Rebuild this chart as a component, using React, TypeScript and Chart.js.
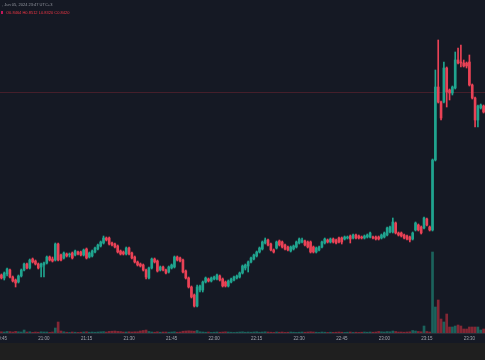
import React, { useEffect, useRef } from 'react';
import { Chart, registerables } from 'chart.js';

Chart.register(...registerables);

// one-minute candles starting at 20:45
const START_MINUTE = 20 * 60 + 45;
const CANDLE_COUNT = 171;
const pad2 = (n: number) => String(n).padStart(2, '0');
const categories: string[] = Array.from({ length: CANDLE_COUNT }, (_, i) => {
  const m = START_MINUTE + i;
  return `${pad2(Math.floor(m / 60) % 24)}:${pad2(m % 60)}`;
});

const tickLabels = ['20:45', '21:00', '21:15', '21:30', '21:45', '22:00', '22:15', '22:30', '22:45', '23:00', '23:15', '23:30'];

const open = [
  0.516, 0.510, 0.518, 0.526, 0.512, 0.506, 0.502, 0.514, 0.526, 0.538,
  0.530, 0.548, 0.544, 0.538, 0.532, 0.536, 0.540, 0.552, 0.548, 0.546,
  0.578, 0.556, 0.550, 0.558, 0.556, 0.560, 0.556, 0.562, 0.562, 0.556,
  0.568, 0.552, 0.554, 0.562, 0.568, 0.574, 0.580, 0.590, 0.590, 0.580,
  0.578, 0.574, 0.564, 0.562, 0.558, 0.570, 0.560, 0.552, 0.542, 0.538,
  0.536, 0.526, 0.510, 0.530, 0.548, 0.544, 0.526, 0.532, 0.526, 0.522,
  0.530, 0.532, 0.552, 0.550, 0.546, 0.524, 0.510, 0.492, 0.476, 0.454,
  0.486, 0.486, 0.502, 0.508, 0.504, 0.508, 0.508, 0.514, 0.508, 0.502,
  0.494, 0.502, 0.506, 0.510, 0.512, 0.520, 0.530, 0.534, 0.542, 0.548,
  0.554, 0.562, 0.568, 0.580, 0.586, 0.578, 0.566, 0.570, 0.584, 0.582,
  0.576, 0.572, 0.564, 0.568, 0.572, 0.580, 0.582, 0.584, 0.582, 0.582,
  0.572, 0.562, 0.566, 0.572, 0.580, 0.586, 0.582, 0.588, 0.586, 0.590,
  0.590, 0.588, 0.590, 0.594, 0.590, 0.596, 0.594, 0.592, 0.590, 0.592,
  0.592, 0.592, 0.592, 0.592, 0.590, 0.592, 0.596, 0.602, 0.602, 0.620,
  0.600, 0.600, 0.596, 0.594, 0.592, 0.588, 0.606, 0.616, 0.612, 0.610,
  0.628, 0.612, 0.606, 0.746, 0.892, 0.862, 0.862, 0.930, 0.886, 0.880,
  0.890, 0.946, 0.942, 0.940, 0.940, 0.942, 0.896, 0.870, 0.826, 0.850,
  0.854,
];

const high = [
  0.518, 0.522, 0.530, 0.528, 0.514, 0.508, 0.516, 0.528, 0.540, 0.540,
  0.548, 0.550, 0.546, 0.540, 0.540, 0.542, 0.554, 0.554, 0.552, 0.580,
  0.580, 0.558, 0.562, 0.560, 0.560, 0.562, 0.566, 0.564, 0.564, 0.568,
  0.570, 0.562, 0.566, 0.572, 0.578, 0.584, 0.594, 0.592, 0.592, 0.582,
  0.580, 0.576, 0.566, 0.564, 0.572, 0.572, 0.562, 0.554, 0.544, 0.540,
  0.538, 0.528, 0.532, 0.550, 0.550, 0.546, 0.534, 0.534, 0.528, 0.534,
  0.538, 0.554, 0.554, 0.552, 0.548, 0.526, 0.512, 0.494, 0.478, 0.496,
  0.496, 0.504, 0.512, 0.510, 0.512, 0.514, 0.518, 0.516, 0.510, 0.504,
  0.506, 0.510, 0.514, 0.516, 0.522, 0.536, 0.538, 0.544, 0.552, 0.558,
  0.564, 0.572, 0.584, 0.590, 0.588, 0.580, 0.568, 0.584, 0.586, 0.584,
  0.578, 0.574, 0.574, 0.576, 0.584, 0.590, 0.590, 0.586, 0.584, 0.584,
  0.574, 0.572, 0.574, 0.584, 0.590, 0.588, 0.590, 0.590, 0.588, 0.592,
  0.592, 0.594, 0.594, 0.596, 0.598, 0.598, 0.596, 0.594, 0.596, 0.598,
  0.602, 0.594, 0.594, 0.594, 0.598, 0.602, 0.612, 0.614, 0.630, 0.622,
  0.602, 0.602, 0.598, 0.596, 0.594, 0.602, 0.622, 0.618, 0.614, 0.632,
  0.630, 0.614, 0.748, 0.926, 0.986, 0.864, 0.942, 0.932, 0.888, 0.894,
  0.962, 0.970, 0.976, 0.946, 0.942, 0.956, 0.898, 0.872, 0.856, 0.858,
  0.856,
];

const low = [
  0.508, 0.506, 0.514, 0.510, 0.502, 0.492, 0.500, 0.512, 0.524, 0.528,
  0.528, 0.540, 0.536, 0.528, 0.512, 0.512, 0.538, 0.544, 0.542, 0.544,
  0.544, 0.544, 0.548, 0.552, 0.552, 0.548, 0.554, 0.556, 0.554, 0.554,
  0.548, 0.550, 0.552, 0.560, 0.566, 0.572, 0.578, 0.584, 0.576, 0.574,
  0.570, 0.560, 0.556, 0.556, 0.556, 0.556, 0.548, 0.540, 0.534, 0.532,
  0.524, 0.508, 0.508, 0.528, 0.540, 0.522, 0.524, 0.524, 0.518, 0.520,
  0.528, 0.530, 0.544, 0.542, 0.520, 0.508, 0.490, 0.470, 0.452, 0.452,
  0.482, 0.482, 0.500, 0.502, 0.502, 0.506, 0.506, 0.504, 0.492, 0.492,
  0.492, 0.500, 0.504, 0.508, 0.510, 0.518, 0.526, 0.522, 0.540, 0.546,
  0.552, 0.560, 0.566, 0.578, 0.574, 0.564, 0.560, 0.568, 0.574, 0.570,
  0.566, 0.564, 0.562, 0.566, 0.570, 0.578, 0.580, 0.574, 0.570, 0.560,
  0.560, 0.560, 0.564, 0.570, 0.578, 0.580, 0.580, 0.580, 0.578, 0.580,
  0.578, 0.586, 0.588, 0.580, 0.588, 0.588, 0.588, 0.588, 0.588, 0.590,
  0.590, 0.588, 0.586, 0.586, 0.588, 0.590, 0.594, 0.600, 0.600, 0.598,
  0.594, 0.592, 0.588, 0.586, 0.582, 0.586, 0.604, 0.604, 0.598, 0.608,
  0.614, 0.604, 0.604, 0.744, 0.860, 0.826, 0.860, 0.852, 0.866, 0.876,
  0.888, 0.938, 0.932, 0.932, 0.930, 0.894, 0.868, 0.812, 0.812, 0.848,
  0.840,
];

const close = [
  0.510, 0.520, 0.528, 0.512, 0.504, 0.500, 0.514, 0.526, 0.538, 0.530,
  0.546, 0.542, 0.538, 0.530, 0.538, 0.540, 0.552, 0.546, 0.544, 0.578,
  0.546, 0.546, 0.560, 0.554, 0.558, 0.550, 0.564, 0.558, 0.556, 0.566,
  0.550, 0.560, 0.564, 0.570, 0.576, 0.582, 0.590, 0.586, 0.578, 0.576,
  0.572, 0.562, 0.558, 0.558, 0.570, 0.558, 0.550, 0.542, 0.536, 0.534,
  0.526, 0.512, 0.530, 0.548, 0.542, 0.524, 0.532, 0.526, 0.520, 0.532,
  0.536, 0.552, 0.546, 0.544, 0.522, 0.510, 0.492, 0.472, 0.454, 0.492,
  0.494, 0.502, 0.510, 0.504, 0.510, 0.512, 0.516, 0.506, 0.494, 0.494,
  0.504, 0.508, 0.512, 0.514, 0.520, 0.534, 0.536, 0.542, 0.550, 0.556,
  0.562, 0.570, 0.582, 0.586, 0.576, 0.566, 0.562, 0.582, 0.576, 0.572,
  0.568, 0.566, 0.572, 0.574, 0.582, 0.588, 0.586, 0.576, 0.572, 0.562,
  0.562, 0.570, 0.572, 0.582, 0.588, 0.582, 0.588, 0.582, 0.580, 0.582,
  0.582, 0.592, 0.592, 0.588, 0.596, 0.590, 0.590, 0.590, 0.594, 0.596,
  0.600, 0.590, 0.588, 0.588, 0.596, 0.600, 0.610, 0.612, 0.622, 0.600,
  0.596, 0.594, 0.590, 0.588, 0.586, 0.600, 0.620, 0.606, 0.600, 0.630,
  0.616, 0.606, 0.746, 0.892, 0.862, 0.830, 0.930, 0.882, 0.880, 0.892,
  0.946, 0.940, 0.940, 0.934, 0.934, 0.896, 0.870, 0.826, 0.854, 0.856,
  0.842,
];

const volume = [
  12, 10, 15, 14, 10, 16, 12, 10, 30, 10,
  12, 6, 10, 8, 12, 10, 10, 6, 10, 50,
  110, 20, 12, 8, 6, 10, 8, 6, 8, 10,
  12, 8, 10, 8, 10, 12, 14, 10, 16, 18,
  20, 16, 14, 10, 10, 12, 10, 12, 12, 20,
  25, 30, 15, 10, 8, 12, 8, 10, 10, 8,
  10, 12, 8, 10, 18, 20, 22, 20, 18, 25,
  12, 10, 8, 10, 6, 8, 10, 8, 10, 12,
  10, 8, 6, 8, 10, 12, 8, 10, 8, 10,
  12, 8, 10, 12, 10, 8, 6, 10, 8, 10,
  6, 8, 10, 8, 6, 8, 10, 8, 10, 12,
  10, 8, 6, 10, 8, 6, 8, 6, 8, 10,
  8, 6, 8, 10, 6, 8, 6, 8, 10, 8,
  10, 8, 10, 15, 12, 10, 14, 12, 20, 15,
  10, 10, 8, 10, 12, 25, 20, 15, 12, 70,
  15, 10, 810, 260, 330, 140, 110, 190, 60, 60,
  70, 80, 70, 40, 40, 60, 60, 60, 60, 30,
  40,
];

const lastPrice = 0.883;
const headerDate = 'Jun 05, 2024 23:47 UTC+3';
const headerOhlc = 'O0.8464 H0.8512 L0.8320 C0.8420';

const UP = '#20a48f';
const DOWN = '#ea4256';
const UP_VOL = 'rgba(34,171,148,0.5)';
const DOWN_VOL = 'rgba(242,54,69,0.5)';

export default function App() {
  const ref = useRef<HTMLCanvasElement>(null);

  useEffect(() => {
    document.body.style.margin = '0';
    const isUp = open.map((o, i) => close[i] >= o);
    const bg = {
      id: 'bg',
      beforeDraw(chart: any) {
        const c = chart.ctx;
        c.save();
        c.fillStyle = '#151924';
        c.fillRect(0, 0, chart.width, chart.height);
        c.restore();
      },
    };
    const priceLine = {
      id: 'priceLine',
      beforeDatasetsDraw(chart: any) {
        const c = chart.ctx;
        const y = Math.round(chart.scales.y.getPixelForValue(lastPrice)) + 0.5;
        c.save();
        c.strokeStyle = 'rgba(242,54,69,0.22)';
        c.lineWidth = 1;
        c.beginPath();
        c.moveTo(chart.chartArea.left, y);
        c.lineTo(chart.chartArea.right, y);
        c.stroke();
        c.restore();
      },
    };
    const chart = new Chart(ref.current!, {
      type: 'bar',
      data: {
        labels: categories,
        datasets: [
          {
            label: 'wick',
            data: low.map((l, i) => [l, high[i]]) as any,
            backgroundColor: isUp.map((u) => (u ? UP : DOWN)),
            barThickness: 1,
            grouped: false,
            yAxisID: 'y',
            order: 2,
          } as any,
          {
            label: 'body',
            data: open.map((o, i) => [o, close[i]]) as any,
            backgroundColor: isUp.map((u) => (u ? UP : DOWN)),
            barThickness: 2,
            minBarLength: 1,
            grouped: false,
            yAxisID: 'y',
            order: 1,
          } as any,
          {
            label: 'volume',
            data: volume,
            backgroundColor: isUp.map((u) => (u ? UP_VOL : DOWN_VOL)),
            barThickness: 2,
            grouped: false,
            yAxisID: 'yv',
            order: 3,
          } as any,
        ],
      },
      options: {
        animation: false,
        responsive: false,
        maintainAspectRatio: false,
        events: [],
        layout: { padding: 0 },
        plugins: { legend: { display: false }, tooltip: { enabled: false } },
        scales: {
          x: {
            type: 'category',
            offset: true,
            grid: { display: false, drawTicks: false },
            border: { display: true, color: '#2a2e39' },
            ticks: {
              autoSkip: false,
              maxRotation: 0,
              minRotation: 0,
              padding: 3,
              color: '#a3a6af',
              font: { size: 4.5, family: 'Liberation Sans' },
              callback: (_v: any, i: number) => (tickLabels.includes(categories[i]) ? categories[i] : ''),
            },
            afterFit: (s: any) => {
              s.height = 10;
              s.paddingLeft = 0;
              s.paddingRight = 0;
            },
          } as any,
          y: { display: false, min: 0.4, max: 1.066 },
          yv: { display: false, min: 0, max: 3330 },
        },
      },
      plugins: [bg, priceLine],
    });
    return () => chart.destroy();
  }, []);

  return (
    <div style={{ position: 'fixed', left: 0, top: 0, width: 485, height: 360, background: '#1f1f1f', overflow: 'hidden' }}>
      <canvas ref={ref} width={485} height={343} style={{ display: 'block', width: 485, height: 343 }} />
      <div style={{ position: 'absolute', left: 0, top: 2, fontFamily: 'Liberation Sans', fontSize: 4, lineHeight: '5px', color: '#9598a1', whiteSpace: 'nowrap' }}>
        <span style={{ position: 'absolute', right: 483, top: 0 }}>published on TradingView.com</span>
        <span style={{ position: 'absolute', left: 2, top: 0 }}>, {headerDate}</span>
      </div>
      <div style={{ position: 'absolute', left: 1, top: 10, fontFamily: 'Liberation Sans', fontSize: 4, lineHeight: '5px', color: '#f23645', whiteSpace: 'nowrap' }}>
        <span style={{ display: 'inline-block', width: 2, height: 3, background: '#c2185b', marginRight: 3, verticalAlign: 'middle' }} />
        {headerOhlc}
      </div>
    </div>
  );
}
